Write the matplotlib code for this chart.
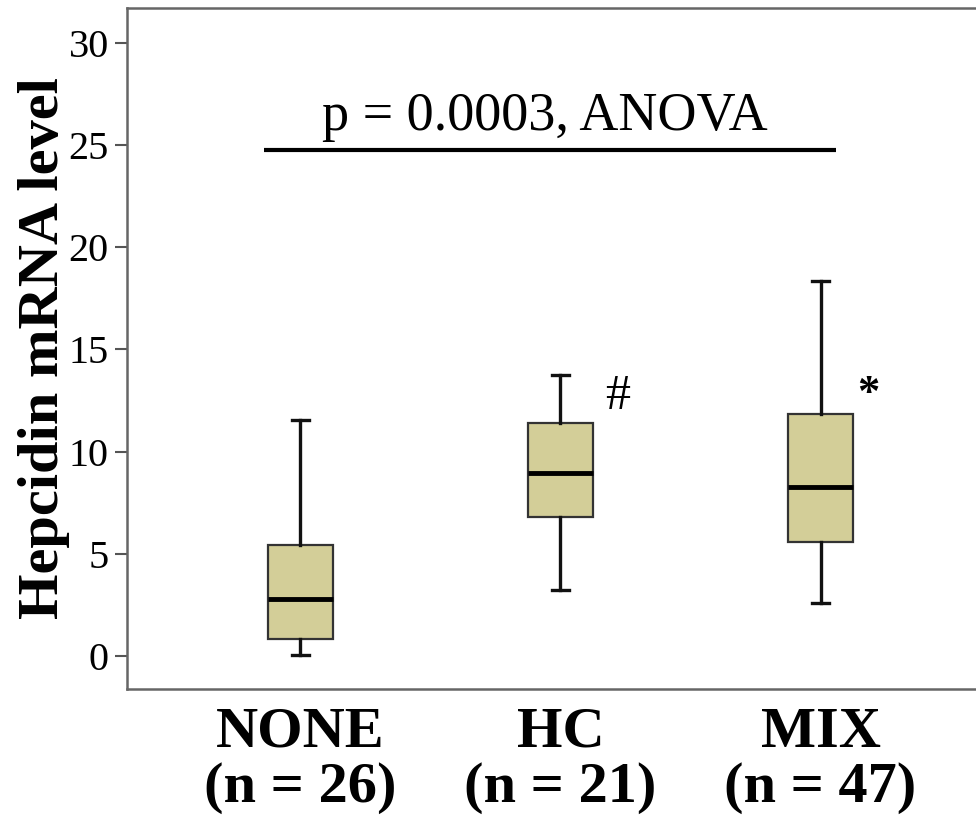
import matplotlib
matplotlib.use("Agg")
import matplotlib.pyplot as plt

plt.rcParams['font.family'] = ['Liberation Serif', 'DejaVu Serif']

groups = ["NONE\n(n = 26)", "HC\n(n = 21)", "MIX\n(n = 47)"]
whislo = [0.05, 3.23, 2.59]
q1 = [0.83, 6.8, 5.58]
med = [2.79, 8.95, 8.27]
q3 = [5.43, 11.4, 11.84]
whishi = [11.55, 13.75, 18.35]
marks = ["", "#", "*"]

stats = []
for i in range(len(groups)):
    stats.append(dict(whislo=whislo[i], q1=q1[i], med=med[i], q3=q3[i],
                      whishi=whishi[i], fliers=[]))

fig = plt.figure(figsize=(9.76, 8.21), dpi=100)
ax = fig.add_axes([0.130, 0.161, 0.876, 0.829])

pos = [1, 2, 3]
ax.bxp(stats, positions=pos, widths=0.25, patch_artist=True, showfliers=False,
       boxprops=dict(facecolor='#d3ce98', edgecolor='#333333', linewidth=1.6),
       medianprops=dict(color='black', linewidth=3.5),
       whiskerprops=dict(color='#111111', linewidth=2.4),
       capprops=dict(color='#111111', linewidth=2.4),
       capwidths=0.065)

# group marks
ax.text(2.218, 12.67, marks[1], fontsize=36, ha='center', va='center')
ax.text(3.185, 12.8, marks[2], fontsize=32, fontweight='bold', ha='center', va='center')

# ANOVA bar
ax.plot([0.86, 3.06], [24.75, 24.75], color='black', linewidth=3, solid_capstyle='butt')
ax.text(1.94, 25.75, "p = 0.0003, ANOVA", fontsize=39, ha='center', va='baseline')

ax.set_xlim(0.333, 3.62)
ax.set_ylim(-1.61, 31.7)
ax.set_yticks([0, 5, 10, 15, 20, 25, 30])
ax.set_xticks(pos)
ax.set_xticklabels(groups, fontsize=42, fontweight='bold', linespacing=1.08)
ax.tick_params(axis='x', length=0, pad=13)
ax.tick_params(axis='y', labelsize=29, length=9, width=1.5, color='#555555', pad=4)
ax.set_ylabel("Hepcidin mRNA level", fontsize=42, fontweight='bold', labelpad=-1)

for side in ['left', 'bottom', 'top', 'right']:
    ax.spines[side].set_color('#666666')
    ax.spines[side].set_linewidth(1.8)

fig.savefig("out.png", dpi=100)
